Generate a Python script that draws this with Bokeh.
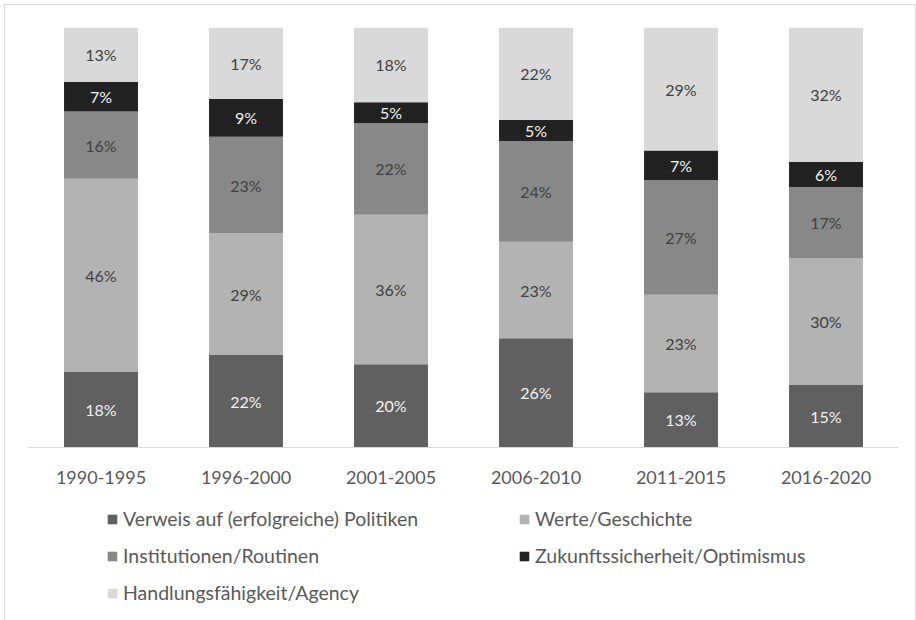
from bokeh.plotting import figure
from bokeh.models import ColumnDataSource, Legend, LegendItem, FactorRange, Range1d
from bokeh.layouts import column
from bokeh.core.properties import value
from bokeh.embed import file_html
from bokeh.resources import INLINE

periods = ["1990-1995", "1996-2000", "2001-2005", "2006-2010", "2011-2015", "2016-2020"]
verweis = [18, 22, 20, 26, 13, 15]
werte = [46, 29, 36, 23, 23, 30]
institutionen = [16, 23, 22, 24, 27, 17]
zukunft = [7, 9, 5, 5, 7, 6]
handlung = [13, 17, 18, 22, 29, 32]

series_names = ["Verweis auf (erfolgreiche) Politiken", "Werte/Geschichte",
                "Institutionen/Routinen", "Zukunftssicherheit/Optimismus",
                "Handlungsfähigkeit/Agency"]
series_vals = [verweis, werte, institutionen, zukunft, handlung]
colors = ["#606060", "#b3b3b3", "#888888", "#222222", "#d9d9d9"]
label_colors = ["#f2f2f2", "#404040", "#404040", "#f2f2f2", "#404040"]
keys = ["s0", "s1", "s2", "s3", "s4"]

totals = [sum(v[i] for v in series_vals) for i in range(len(periods))]
data = {"period": periods}
for k, v in zip(keys, series_vals):
    data[k] = [v[i] / totals[i] for i in range(len(periods))]
src = ColumnDataSource(data)

FONT = "Lato"

p = figure(x_range=FactorRange(*periods, range_padding=0), y_range=(0, 1),
           width=910, height=495, output_backend="svg", toolbar_location=None,
           min_border_left=23, min_border_right=17, min_border_top=22,
           min_border_bottom=53)
p.outline_line_color = None
p.xgrid.visible = False
p.ygrid.visible = False
p.yaxis.visible = False

p.vbar_stack(keys, x="period", width=0.51, source=src,
             color=colors, line_color=None)

# segment labels
lx, ly, lt, lc = [], [], [], []
for i, per in enumerate(periods):
    base = 0.0
    for j, k in enumerate(keys):
        h = data[k][i]
        lx.append(per)
        ly.append(base + h / 2)
        lt.append(f"{series_vals[j][i]}%")
        lc.append(label_colors[j])
        base += h
lsrc = ColumnDataSource(dict(x=lx, y=ly, t=lt, c=lc))
p.text(x="x", y="y", text="t", text_color="c", source=lsrc,
       text_align="center", text_baseline="middle",
       text_font=value(FONT), text_font_size="16px")

ax = p.xaxis[0]
ax.axis_line_color = "#d9d9d9"
ax.axis_line_width = 1
ax.major_tick_line_color = None
ax.minor_tick_line_color = None
ax.major_label_text_font = FONT
ax.major_label_text_font_size = "18px"
ax.major_label_text_color = "#595959"
ax.major_label_standoff = 17

# legend figure (same bars, kept out of its visible range; only the legend shows)
p2 = figure(x_range=FactorRange(*periods, range_padding=0), y_range=Range1d(2, 3),
            width=910, height=120, output_backend="svg", toolbar_location=None,
            min_border_left=23, min_border_right=17, min_border_top=0,
            min_border_bottom=0)
p2.outline_line_color = None
p2.axis.visible = False
p2.grid.visible = False
rs = p2.vbar_stack(keys, x="period", width=0.51, source=src,
                   color=colors, line_color=None)
items = [LegendItem(label=n, renderers=[r]) for n, r in zip(series_names, rs)]
legend = Legend(items=items, orientation="horizontal", ncols=2,
                location=(78, 16), glyph_width=12, glyph_height=12,
                label_standoff=5, label_width=381, label_height=20, spacing=14,
                padding=0, margin=0, border_line_color=None,
                background_fill_alpha=0,
                label_text_font=FONT, label_text_font_size="19.5px",
                label_text_color="#595959")
p2.add_layout(legend, "center")

layout = column(p, p2, spacing=0)
layout.margin = (4, 0, 0, 4)
layout.styles = {"border": "1px solid #d9d9d9"}

open("out.html", "w").write(file_html(layout, INLINE))
